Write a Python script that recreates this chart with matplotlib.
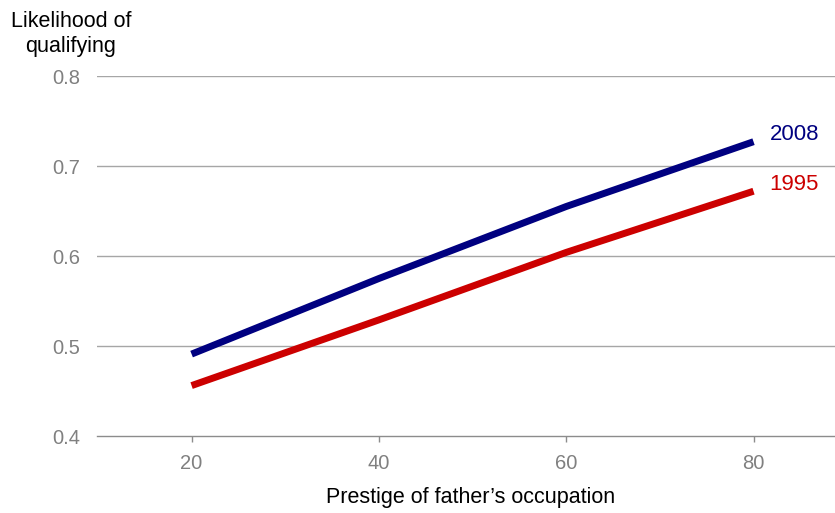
import matplotlib
matplotlib.use("Agg")
import matplotlib.pyplot as plt

plt.rcParams['font.family'] = ['Liberation Sans', 'DejaVu Sans']

prestige = [20, 40, 60, 80]
likelihood_2008 = [0.491, 0.575, 0.655, 0.727]
likelihood_1995 = [0.456, 0.529, 0.604, 0.672]
series_labels = ["2008", "1995"]
series_colors = ["#000080", "#cc0000"]
y_ticks = [0.4, 0.5, 0.6, 0.7, 0.8]
x_ticks = [20, 40, 60, 80]

fig = plt.figure(figsize=(8.35, 5.13), dpi=100)
ax = fig.add_axes([97 / 835, 1 - 436 / 513, (835 - 97) / 835, 360 / 513])

ax.set_xlim(9.9, 88.7)
ax.set_ylim(0.4, 0.8)

for y in y_ticks[1:]:
    ax.axhline(y, color="#a6a6a6", lw=1.0, zorder=1)

for vals, lab, col in zip([likelihood_2008, likelihood_1995], series_labels, series_colors):
    ax.plot(prestige, vals, color=col, lw=5, solid_capstyle="butt", zorder=3)
    ax.annotate(lab, xy=(prestige[-1], vals[-1]), xytext=(11.5, 5),
                textcoords="offset points", color=col, fontsize=16,
                ha="left", va="center")

for side in ["top", "right", "left"]:
    ax.spines[side].set_visible(False)
ax.spines["bottom"].set_color("#8c8c8c")
ax.spines["bottom"].set_linewidth(1.0)

ax.set_xticks(x_ticks)
ax.set_xticklabels([str(v) for v in x_ticks])
ax.set_yticks(y_ticks)
ax.set_yticklabels([f"{v:.1f}" for v in y_ticks])
ax.tick_params(axis="x", colors="#8c8c8c", labelcolor="#808080", labelsize=14.5,
               length=4, width=1, pad=9)
ax.tick_params(axis="y", length=0, labelcolor="#808080", labelsize=14.5, pad=12)

fig.text(471 / 835, 1 - 497 / 513, "Prestige of father\u2019s occupation", fontsize=15.5,
         ha="center", va="center")
fig.text(71 / 835, 1 - 34 / 513, "Likelihood of\nqualifying", fontsize=15.5,
         ha="center", va="center", linespacing=1.25)

fig.savefig("out.png", dpi=100)
